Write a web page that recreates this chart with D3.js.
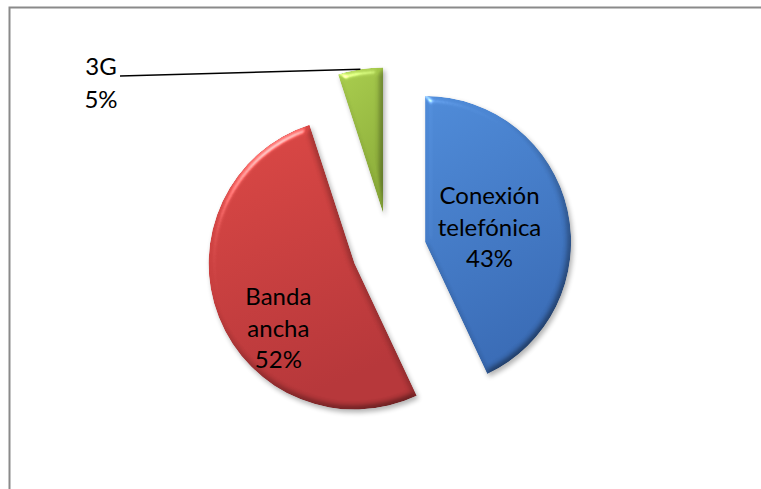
<!DOCTYPE html>
<html>
<head>
<meta charset="utf-8">
<script src="https://cdn.jsdelivr.net/npm/d3@7"></script>
<style>
  html, body { margin: 0; padding: 0; background: #fff; }
  svg { display: block; }
  text { font-family: Lato, "Noto Sans", sans-serif; fill: #000; }
</style>
</head>
<body>
<svg id="chart" width="761" height="489"></svg>
<script>
// Tipo de conexión a Internet (% de hogares)
const categories = ["Conexión telefónica", "Banda ancha", "3G"];
const values = [43, 52, 5];
const colorsLight = ["#4f8bd8", "#dc4845", "#a9cd4e"];
const colorsDark  = ["#3a6cb6", "#b6373a", "#8cad3a"];

// Layout
const W = 761, H = 489;
const cx = 389, cy = 250, R = 146, explode = 37;
const fontSize = 24, lineH = 31.5;
// inside labels: angle fraction within the slice and distance from the slice tip
const insideLabel = { 0: { frac: 0.5, dist: 66 }, 1: { frac: 0.40, dist: 100 } };
const outsideLabelPos = [101, 75];  // "3G" label (first baseline)

const svg = d3.select("#chart");
const defs = svg.append("defs");

// Chart frame
svg.append("rect")
  .attr("x", 9.5).attr("y", 7.5)
  .attr("width", W + 20).attr("height", H + 20)
  .attr("fill", "#fff").attr("stroke", "#8a8a8a").attr("stroke-width", 2);

// Bevelled edges: softened diffuse shading times the fill, plus a narrow specular rim,
// with a soft drop shadow underneath
const f = defs.append("filter").attr("id", "bevel")
  .attr("x", "-20%").attr("y", "-20%").attr("width", "140%").attr("height", "140%")
  .attr("color-interpolation-filters", "sRGB");
f.append("feGaussianBlur").attr("in", "SourceAlpha").attr("stdDeviation", 3.5).attr("result", "blur");
const dif = f.append("feDiffuseLighting").attr("in", "blur").attr("surfaceScale", 4)
  .attr("diffuseConstant", 1 / Math.sin(50 * Math.PI / 180))
  .attr("lighting-color", "#ffffff").attr("result", "dif");
dif.append("feDistantLight").attr("azimuth", 235).attr("elevation", 50);
f.append("feComposite").attr("in", "SourceGraphic").attr("in2", "dif")
  .attr("operator", "arithmetic").attr("k1", 0.5).attr("k2", 0.5).attr("k3", 0).attr("k4", 0).attr("result", "shaded");
const spec = f.append("feSpecularLighting").attr("in", "blur").attr("surfaceScale", 5)
  .attr("specularConstant", 0.7).attr("specularExponent", 30)
  .attr("lighting-color", "#ffffff").attr("result", "spec");
spec.append("feDistantLight").attr("azimuth", 235).attr("elevation", 25);
f.append("feComposite").attr("in", "spec").attr("in2", "SourceAlpha").attr("operator", "in").attr("result", "specIn");
f.append("feComposite").attr("in", "shaded").attr("in2", "specIn")
  .attr("operator", "arithmetic").attr("k1", 0).attr("k2", 1).attr("k3", 0.7).attr("k4", 0).attr("result", "lit");
f.append("feComposite").attr("in", "lit").attr("in2", "SourceAlpha").attr("operator", "in").attr("result", "litIn");
f.append("feOffset").attr("in", "SourceAlpha").attr("dx", 2).attr("dy", 3).attr("result", "off");
f.append("feGaussianBlur").attr("in", "off").attr("stdDeviation", 2.5).attr("result", "offBlur");
f.append("feComponentTransfer").attr("in", "offBlur").attr("result", "shadow")
  .append("feFuncA").attr("type", "linear").attr("slope", 0.3);
const merge = f.append("feMerge");
merge.append("feMergeNode").attr("in", "shadow");
merge.append("feMergeNode").attr("in", "litIn");

categories.forEach((c, i) => {
  const g = defs.append("linearGradient").attr("id", "grad" + i)
    .attr("x1", 0).attr("y1", 0).attr("x2", 0.3).attr("y2", 1);
  g.append("stop").attr("offset", "0%").attr("stop-color", colorsLight[i]);
  g.append("stop").attr("offset", "100%").attr("stop-color", colorsDark[i]);
});

const data = categories.map((c, i) => ({ category: c, value: values[i], i }));
const pie = d3.pie().sort(null).value(d => d.value);
const arcs = pie(data);
const arc = d3.arc().innerRadius(0).outerRadius(R);
const dir = a => [Math.sin(a), -Math.cos(a)];

const root = svg.append("g").attr("transform", `translate(${cx},${cy})`);

arcs.forEach(a => {
  const mid = (a.startAngle + a.endAngle) / 2;
  const [ux, uy] = dir(mid);
  a.tip = [ux * explode, uy * explode];
});

root.selectAll("path.slice").data(arcs).join("path")
  .attr("class", "slice")
  .attr("transform", a => `translate(${a.tip[0]},${a.tip[1]})`)
  .attr("d", arc)
  .attr("fill", a => `url(#grad${a.data.i})`)
  .attr("filter", "url(#bevel)");

// Labels
arcs.forEach(a => {
  const i = a.data.i;
  const lines = a.data.category.split(" ").concat([a.data.value + "%"]);
  if (insideLabel[i]) {
    const L = insideLabel[i];
    const ang = a.startAngle + (a.endAngle - a.startAngle) * L.frac;
    const [ux, uy] = dir(ang);
    const x = a.tip[0] + ux * L.dist, y = a.tip[1] + uy * L.dist;
    const t = root.append("text").attr("text-anchor", "middle")
      .attr("font-size", fontSize);
    lines.forEach((s, k) => {
      t.append("tspan").attr("x", x)
        .attr("y", y + (k - (lines.length - 1) / 2) * lineH + fontSize * 0.35)
        .text(s);
    });
  } else {
    const mid = (a.startAngle + a.endAngle) / 2;
    const [ux, uy] = dir(mid);
    const ex = cx + a.tip[0] + ux * R, ey = cy + a.tip[1] + uy * R;
    const [lx, ly] = outsideLabelPos;
    const t = svg.append("text").attr("text-anchor", "middle").attr("font-size", fontSize);
    lines.forEach((s, k) => {
      t.append("tspan").attr("x", lx).attr("y", ly + k * (lineH + 1)).text(s);
    });
    svg.append("line")
      .attr("x1", lx + 19).attr("y1", ly + 1)
      .attr("x2", ex).attr("y2", ey)
      .attr("stroke", "#000").attr("stroke-width", 1.6);
  }
});
</script>
</body>
</html>
